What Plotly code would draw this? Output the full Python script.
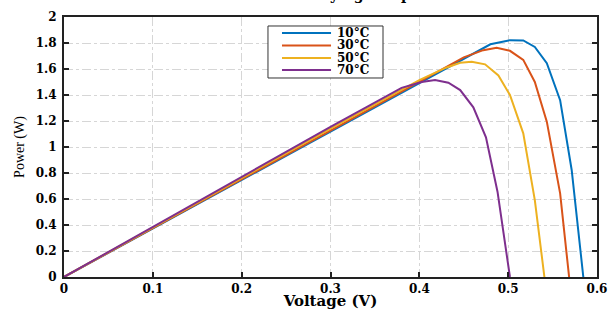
import plotly.graph_objects as go

# Data
V10 = [0, 0.1, 0.2, 0.3, 0.4, 0.45, 0.48, 0.502, 0.517, 0.530, 0.5435, 0.5585, 0.5715, 0.5846]
P10 = [0, 0.373, 0.746, 1.118, 1.49, 1.68, 1.79, 1.822, 1.82, 1.77, 1.644, 1.36, 0.823, 0]

V30 = [0, 0.1, 0.2, 0.3, 0.4, 0.45, 0.472, 0.487, 0.502, 0.517, 0.530, 0.5435, 0.5585, 0.5686]
P30 = [0, 0.377, 0.754, 1.13, 1.505, 1.69, 1.745, 1.764, 1.74, 1.67, 1.50, 1.195, 0.643, 0]

V50 = [0, 0.1, 0.2, 0.3, 0.4, 0.43, 0.446, 0.459, 0.474, 0.489, 0.502, 0.517, 0.530, 0.5408]
P50 = [0, 0.381, 0.762, 1.142, 1.515, 1.61, 1.648, 1.656, 1.636, 1.55, 1.40, 1.105, 0.592, 0]

V70 = [0, 0.1, 0.2, 0.3, 0.38, 0.4027, 0.4177, 0.4327, 0.446, 0.4608, 0.475, 0.488, 0.502]
P70 = [0, 0.386, 0.772, 1.155, 1.455, 1.50, 1.515, 1.495, 1.438, 1.305, 1.074, 0.656, 0]

names = ["10°C", "30°C", "50°C", "70°C"]
voltages = [V10, V30, V50, V70]
powers = [P10, P30, P50, P70]
colors = ["#0072BD", "#D95319", "#EDB120", "#7E2F8E"]

x_ticks = [0, 0.1, 0.2, 0.3, 0.4, 0.5, 0.6]
x_ticklabels = ["0", "0.1", "0.2", "0.3", "0.4", "0.5", "0.6"]
y_ticks = [0, 0.2, 0.4, 0.6, 0.8, 1, 1.2, 1.4, 1.6, 1.8, 2]
y_ticklabels = ["0", "0.2", "0.4", "0.6", "0.8", "1", "1.2", "1.4", "1.6", "1.8", "2"]

fig = go.Figure()
for name, v, p, c in zip(names, voltages, powers, colors):
    fig.add_trace(go.Scatter(x=v, y=p, mode="lines", name=name, showlegend=False,
                             line=dict(color=c, width=2)))

bold = "DejaVu Serif"
serif = "Liberation Serif"
fig.update_layout(
    width=608, height=310,
    margin=dict(l=64, r=11, t=17, b=33),
    paper_bgcolor="white", plot_bgcolor="white",
    font=dict(family=bold, color="black", size=12),
    showlegend=False,
    xaxis=dict(range=[0, 0.6], tickmode="array", tickvals=x_ticks,
               ticktext=["<b>" + t + "</b>" for t in x_ticklabels],
               showgrid=True, gridcolor="#d6d6d6", griddash="dashdot", gridwidth=1,
               showline=True, linecolor="#222", linewidth=2, mirror=True,
               ticks="inside", ticklen=5, tickwidth=2, tickcolor="#222",
               zeroline=False, automargin=False, ticklabelstandoff=0,
               tickfont=dict(family=bold, size=12),
               title=dict(text="<b>Voltage (V)</b>", standoff=1,
                          font=dict(family=bold, size=15))),
    yaxis=dict(range=[0, 2], tickmode="array", tickvals=y_ticks,
               ticktext=["<b>" + t + "</b>" for t in y_ticklabels],
               showgrid=True, gridcolor="#d6d6d6", griddash="dashdot", gridwidth=1,
               showline=True, linecolor="#222", linewidth=2, mirror="allticks",
               ticks="inside", ticklen=5, tickwidth=2, tickcolor="#222",
               zeroline=False, automargin=False, ticklabelstandoff=3,
               tickfont=dict(family=bold, size=12),
               title=dict(text="Power (W)", standoff=8,
                          font=dict(family=serif, size=14))),
)

# Compact boxed legend (paper coordinates)
fig.add_shape(type="rect", xref="paper", yref="paper",
              x0=0.3827, x1=0.5985, y0=0.7654, y1=0.9654,
              line=dict(color="#333", width=1), fillcolor="white", layer="above")
legend_rows = [0.9385, 0.8904, 0.8423, 0.7962]
for name, c, yr in zip(names, colors, legend_rows):
    fig.add_shape(type="line", xref="paper", yref="paper",
                  x0=0.409, x1=0.501, y0=yr, y1=yr,
                  line=dict(color=c, width=2), layer="above")
    fig.add_annotation(text="<b>" + name + "</b>", xref="paper", yref="paper",
                       x=0.5084, y=yr, xanchor="left", yanchor="middle",
                       showarrow=False,
                       font=dict(family=bold, size=12, color="black"))

fig.add_annotation(text="<b>P-V Characteristics at Varying Temperature</b>",
                   xref="paper", yref="paper", x=0.44, y=1.046,
                   xanchor="center", yanchor="bottom", showarrow=False,
                   font=dict(family=bold, size=14, color="black"))

fig.write_html("out.html", config={"displayModeBar": False},
               post_script="document.body.style.margin='0';")
